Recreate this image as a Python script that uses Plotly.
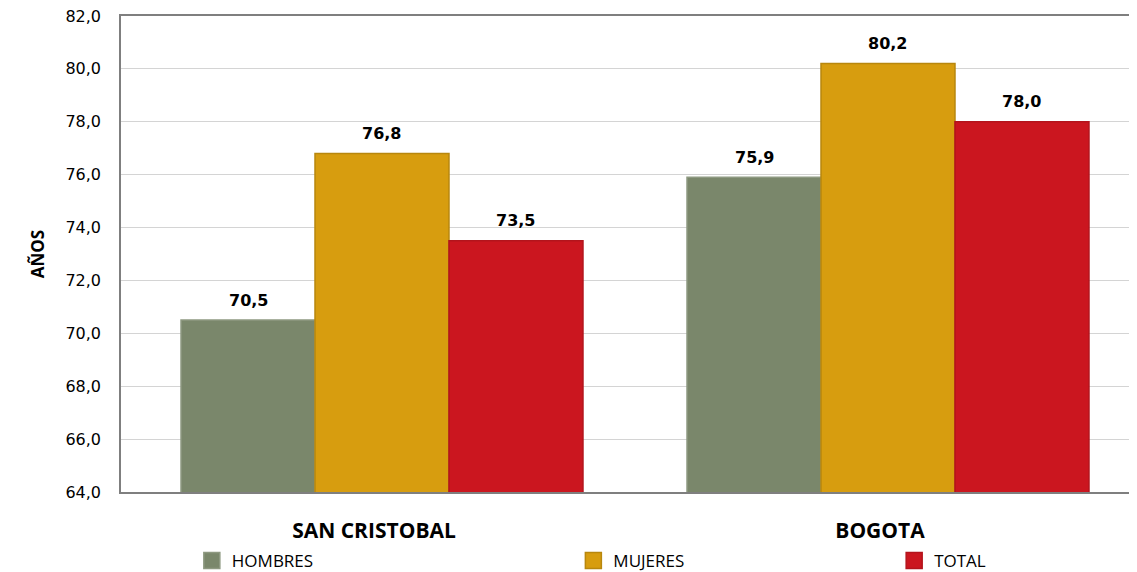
import plotly.graph_objects as go

categories = ["SAN CRISTOBAL", "BOGOTA"]
hombres = [70.5, 75.9]
mujeres = [76.8, 80.2]
total = [73.5, 78.0]
y_ticks = [64, 66, 68, 70, 72, 74, 76, 78, 80, 82]

series = [
    ("HOMBRES", hombres, "#7A876B", "#8E9981", "legend", 0.070),
    ("MUJERES", mujeres, "#D79D0F", "#B8870E", "legend2", 0.447),
    ("TOTAL", total, "#CB161F", "#B3141C", "legend3", 0.764),
]

# page body has a default 8px margin; size the figure to fill the 1137x572 window
W, H = 1129, 564
ML, MR, MT, MB = 113, 4, 8, 80
plot_w = W - ML - MR
cat_w = plot_w / len(categories)
BAR_W = 0.2648          # bar width in category units
GROUP_START = -0.3814   # left edge of the group relative to category centre

fig = go.Figure()
for i, (name, vals, color, edge, leg, lx) in enumerate(series):
    off = GROUP_START + i * BAR_W
    fig.add_trace(go.Bar(
        x=categories, y=vals, name=name, showlegend=False,
        width=BAR_W, offset=off,
        marker=dict(color=color, line=dict(color=edge, width=1.5)),
        hoverinfo="x+y",
    ))
    # legend entry with larger square symbol
    fig.add_trace(go.Scatter(
        x=[None], y=[None], mode="markers", name=name, legend=leg,
        marker=dict(symbol="square", size=16, color=color, line=dict(color=edge, width=1.5)),
    ))
    for c, v in zip(categories, vals):
        fig.add_annotation(
            x=c, y=v, text="<b>" + f"{v:.1f}".replace(".", ",") + "</b>",
            showarrow=False, xshift=(off + BAR_W / 2) * cat_w, yshift=20, yanchor="middle",
            font=dict(family="DejaVu Sans", size=16, color="#000000"),
        )

legend_common = dict(orientation="h", yanchor="middle", y=-0.145, xanchor="left",
                     font=dict(family="Open Sans", size=17, color="#000000"),
                     bgcolor="rgba(0,0,0,0)", itemsizing="trace")
layout_legends = {}
for name, vals, color, edge, leg, lx in series:
    layout_legends[leg] = dict(legend_common, x=lx)

fig.update_layout(
    width=W, height=H,
    margin=dict(l=ML, r=MR, t=MT, b=MB, autoexpand=False),
    paper_bgcolor="white", plot_bgcolor="white",
    barmode="overlay",
    separators=", ",
    showlegend=True,
    **layout_legends,
    xaxis=dict(
        tickfont=dict(family="Open Sans", size=21, color="#000000", weight="bold"),
        showline=True, linecolor="#7F7F7F", linewidth=1.5, mirror=True,
        ticks="", ticklabelstandoff=19, automargin=False,
    ),
    yaxis=dict(
        range=[64, 82], tickvals=y_ticks, tickformat=".1f",
        tickfont=dict(family="DejaVu Sans", size=16, color="#000000"),
        ticklabeloverflow="allow",
        showgrid=True, gridcolor="#D4D4D4", gridwidth=1,
        showline=True, linecolor="#7F7F7F", linewidth=1.5, mirror=True,
        ticks="", ticklabelstandoff=15, zeroline=False, automargin=False,
        title=dict(text="<b>AÑOS</b>", font=dict(family="Open Sans", size=17, color="#000000"), standoff=16),
    ),
)

fig.write_html("out.html")
